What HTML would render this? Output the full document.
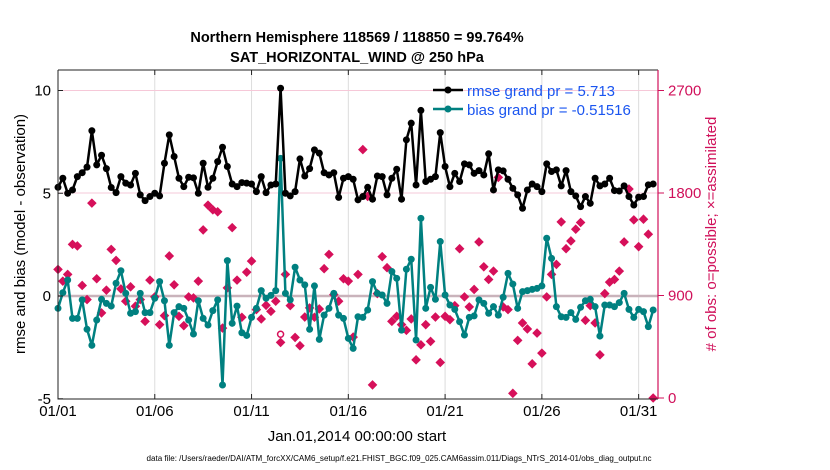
<!DOCTYPE html>
<html><head><meta charset="utf-8"><style>
body{margin:0;background:#fff;}
svg{display:block;font-family:"Liberation Sans",sans-serif;}
</style></head><body>
<svg id="chart" width="830" height="470">
<text x="357" y="42" text-anchor="middle" font-size="14.5" font-weight="bold">Northern Hemisphere 118569 / 118850 = 99.764%</text>
<text x="357" y="62" text-anchor="middle" font-size="14.5" font-weight="bold">SAT_HORIZONTAL_WIND @ 250 hPa</text>
<g id="grid"></g><g id="marks"></g><g id="axes"></g>
<text transform="translate(25,234) rotate(-90)" text-anchor="middle" font-size="15">rmse and bias (model - observation)</text>
<text transform="translate(716,234) rotate(-90)" text-anchor="middle" font-size="15" fill="#d0105a"># of obs: o=possible; ×=assimilated</text>
<text x="357" y="441" text-anchor="middle" font-size="15">Jan.01,2014 00:00:00 start</text>
<text x="399" y="461" text-anchor="middle" font-size="8.6" textLength="505" lengthAdjust="spacingAndGlyphs">data file: /Users/raeder/DAI/ATM_forcXX/CAM6_setup/f.e21.FHIST_BGC.f09_025.CAM6assim.011/Diags_NTrS_2014-01/obs_diag_output.nc</text>
<g>
<line x1="433" y1="90" x2="463" y2="90" stroke="#000" stroke-width="2.5"/><circle cx="448" cy="90" r="3.5" fill="#000"/>
<text x="467" y="96" font-size="15" fill="#1a55f0">rmse grand pr = 5.713</text>
<line x1="433" y1="109" x2="463" y2="109" stroke="#008080" stroke-width="2.5"/><circle cx="448" cy="109" r="3.5" fill="#008080"/>
<text x="467" y="115" font-size="15" fill="#1a55f0">bias grand pr = -0.51516</text>
</g>
</svg>
<script>
const rmse=[5.29,5.73,5.0,5.16,5.81,6.0,6.27,8.04,6.38,6.85,6.2,5.28,5.03,5.81,5.49,5.4,5.97,4.92,4.64,4.84,5.0,4.87,6.46,7.84,6.79,5.73,5.32,5.78,5.75,5.0,6.46,5.29,
5.73,6.54,7.24,6.3,5.45,5.32,5.52,5.49,5.45,5.08,5.81,5.03,5.4,5.45,10.11,5.0,4.87,5.08,6.67,5.84,6.2,7.11,6.95,6.0,5.89,6.0,4.8,5.73,5.81,5.68,4.68,
4.84,5.29,4.71,5.84,5.81,4.92,5.73,6.17,4.71,7.6,8.41,5.4,9.03,5.57,5.68,5.81,7.95,6.3,5.32,5.97,5.57,6.43,6.38,5.97,6.1,5.89,6.92,5.16,6.14,6.09,
5.68,5.24,4.92,4.27,5.16,5.45,5.32,5.08,6.43,6.06,6.14,5.36,6.1,5.08,4.87,4.35,4.84,4.51,5.73,5.36,5.45,5.73,5.13,5.11,5.36,4.84,4.43,4.81,4.84,5.41,5.45];
const bias=[-0.6,0.16,0.78,-1.09,-1.09,-0.19,-1.62,-2.4,-1.17,-0.16,-0.36,-0.49,0.62,1.23,0.13,-0.84,-0.76,0.13,-0.81,-0.81,-0.11,0.7,-0.23,-2.4,-0.81,-0.52,-0.6,-1.17,-1.85,-0.23,-1.09,-1.41,
-0.71,-0.19,-4.33,1.72,-1.33,-0.49,-1.79,-1.92,-1.04,-0.6,0.26,-0.11,0.03,0.26,6.7,0.13,-0.19,1.4,0.78,0.54,-1.62,0.49,-2.11,-0.93,-0.6,0.13,-0.93,-1.09,-2.06,-2.55,-1.01,
-1.04,-0.68,0.7,0.13,0.05,-0.36,1.19,0.86,-1.66,1.3,1.79,-2.14,3.78,-0.6,0.42,-0.16,2.65,0.05,-0.44,-0.65,-1.25,-1.9,-1.04,-0.97,-0.19,-0.36,-0.84,-0.52,-0.93,-0.06,
1.1,0.58,-0.6,0.21,0.26,0.32,0.37,0.49,2.81,1.83,-0.52,-1.01,-1.04,-0.81,-1.14,-0.55,-0.23,-0.16,-0.52,-1.95,-0.44,-0.44,-0.52,-0.32,0.13,-0.65,-1.04,-0.65,-0.76,-1.49,-0.68];
const nobs=[1129,1026,1085,1349,1335,988,864,1711,1047,747,947,1305,1208,958,850,976,806,864,673,1035,888,644,723,1247,994,717,635,888,879,1026,1476,1693,
1652,1635,614,967,1496,1035,709,1105,1202,776,694,814,761,850,488,1085,811,532,459,711,791,709,782,1135,1261,908,850,1047,1026,535,1085,
2181,1770,115,917,1241,1144,673,717,644,594,694,335,467,644,497,711,312,717,688,811,1311,888,800,953,1370,1152,1041,1114,1937,800,776,
41,506,659,606,300,570,394,888,1085,1173,1546,1311,1379,1482,1541,682,811,659,379,917,1017,1041,1114,1370,1835,1564,1329,1570,1438,0];
const leftTicks=[10,5,0,-5];
const rightTicks=[2700,1800,900,0];
const dayTicks=[1,6,11,16,21,26,31];
const dayLabels=["01/01","01/06","01/11","01/16","01/21","01/26","01/31"];

const X0=58,X1=658,Y0=70,Y1=399;
const xS=d=>X0+(d-1)*(X1-X0)/31;
const yL=v=>296-v*20.55;
const yR=v=>398-v*(102.5/900);
const NS="http://www.w3.org/2000/svg";
function mk(p,t,a){const e=document.createElementNS(NS,t);for(const k in a)e.setAttribute(k,a[k]);p.appendChild(e);return e;}
const grid=document.getElementById('grid'),marks=document.getElementById('marks'),axes=document.getElementById('axes');
dayTicks.forEach((d,i)=>{
 const l=mk(grid,'line',{x1:xS(d),x2:xS(d),y1:Y0,y2:Y1,stroke:'#dcdcdc','stroke-width':1});
 
 
 mk(axes,'line',{x1:xS(d),x2:xS(d),y1:Y1,y2:Y1-5,stroke:'#222'});
 mk(axes,'line',{x1:xS(d),x2:xS(d),y1:Y0,y2:Y0+5,stroke:'#222'});
 const t=mk(axes,'text',{x:xS(d),y:416,'text-anchor':'middle','font-size':15});
 t.textContent=dayLabels[i];
 
 
});
rightTicks.forEach(v=>{
 if(v>0&&v!==900){const g=mk(grid,'line',{x1:X0,x2:X1,y1:yR(v),y2:yR(v),stroke:'#f6c8d8','stroke-width':1});
 
 }
 mk(axes,'line',{x1:X1,x2:X1+6,y1:yR(v),y2:yR(v),stroke:'#d0105a','stroke-width':1});
 const t=mk(axes,'text',{x:X1+10,y:yR(v)+5,'font-size':15,fill:'#d0105a'});
 t.textContent=v;
 
 
});
const z=mk(grid,'line',{x1:X0,x2:X1,y1:yL(0),y2:yL(0),stroke:'#c9b3bb','stroke-width':2.5});


leftTicks.forEach(v=>{
 mk(axes,'line',{x1:X0,x2:X0+5,y1:yL(v),y2:yL(v),stroke:'#222'});
 const t=mk(axes,'text',{x:X0-7,y:yL(v)+5,'text-anchor':'end','font-size':15});
 t.textContent=v;
 
 
});
const fr=mk(axes,'path',{d:`M${X0},${Y0}H${X1}M${X0},${Y0}V${Y1}H${X1}`,stroke:'#222',fill:'none','stroke-width':1});


const ra=mk(axes,'line',{x1:X1,x2:X1,y1:Y0,y2:Y1,stroke:'#d0105a','stroke-width':1.2});


nobs.forEach((v,i)=>{
 const x=xS(1+i/4),y=yR(v);
 const m=mk(marks,'path',{d:`M${x},${y-4.8}L${x+4.8},${y}L${x},${y+4.8}L${x-4.8},${y}Z`,fill:'#d6105a'});
 
 
});
const oc=mk(marks,'circle',{cx:xS(1+46/4),cy:yR(560),r:3,fill:'none',stroke:'#d6105a','stroke-width':1.5});


function series(arr,col,name){
 const d=arr.map((v,i)=>(i?'L':'M')+xS(1+i/4)+','+yL(v)).join('');
 const p=mk(marks,'path',{d,stroke:col,fill:'none','stroke-width':2.5,'stroke-linejoin':'round'});
 
 
 arr.forEach((v,i)=>{
  const c=mk(marks,'circle',{cx:xS(1+i/4),cy:yL(v),r:3.5,fill:col});
  
  
 });
}
series(bias,'#008080','bias');
series(rmse,'#000','rmse');
</script>
</body></html>
